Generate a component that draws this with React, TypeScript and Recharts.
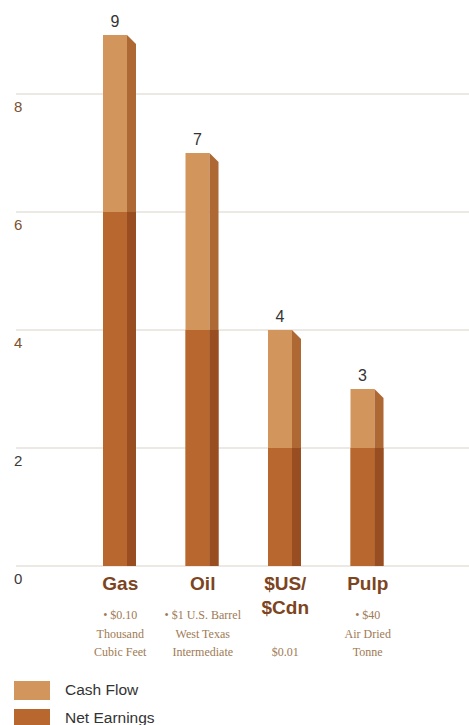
import { Bar, BarChart, CartesianGrid, LabelList, XAxis, YAxis } from "recharts";

const categories = ["Gas", "Oil", "$US/\n$Cdn", "Pulp"];
const cashFlow = [9, 7, 4, 3];
const netEarnings = [6, 4, 2, 2];
const notes = [
  ["• $0.10", "Thousand", "Cubic Feet"],
  ["• $1 U.S. Barrel", "West Texas", "Intermediate"],
  ["", "", "$0.01"],
  ["• $40", "Air Dried", "Tonne"],
];
const yTicks = [0, 2, 4, 6, 8];

const series = [
  { key: "cashFlow", name: "Cash Flow", front: "#d2955c", side: "#ad6833" },
  { key: "netEarnings", name: "Net Earnings", front: "#b8672f", side: "#984e21" },
];

const data = categories.map((name, i) => ({
  name,
  cashFlow: cashFlow[i],
  netEarnings: netEarnings[i],
}));

const DEPTH = 9;

// front face plus a shaded right side; the top bar gets a bevelled corner
function Block(props: any) {
  const { x, y, width, height, front, side, bevel } = props;
  if (!height || height <= 0) return null;
  const r = x + width;
  const b = y + height;
  const sidePts = bevel
    ? `${r},${y} ${r + DEPTH},${y + DEPTH} ${r + DEPTH},${b} ${r},${b}`
    : `${r},${y} ${r + DEPTH},${y} ${r + DEPTH},${b} ${r},${b}`;
  return (
    <g>
      <rect x={x} y={y} width={width} height={height} fill={front} />
      <polygon points={sidePts} fill={side} />
    </g>
  );
}

function CategoryTick(props: any) {
  const { x, y, payload, index } = props;
  const lines = String(payload.value).split("\n");
  const cx = x + 5;
  return (
    <g>
      {lines.map((line, i) => (
        <text
          key={line}
          x={cx}
          y={y + 16 + i * 24}
          textAnchor="middle"
          fontFamily="Liberation Sans, Arial, sans-serif"
          fontWeight={700}
          fontSize={19}
          fill="#7c4421"
        >
          {line}
        </text>
      ))}
      {notes[index].map((line, i) =>
        line ? (
          <text
            key={i}
            x={cx}
            y={y + 45 + i * 18.5}
            textAnchor="middle"
            fontFamily="Liberation Serif, Times New Roman, serif"
            fontSize={12}
            fill="#a07a54"
          >
            {line}
          </text>
        ) : null
      )}
    </g>
  );
}

function ValueTick(props: any) {
  const { y, payload } = props;
  return (
    <text
      x={14}
      y={y + 18}
      fontFamily="Liberation Sans, Arial, sans-serif"
      fontSize={15}
      fill={payload.value >= 4 ? "#7a5232" : "#3a3a3a"}
    >
      {payload.value}
    </text>
  );
}

export default function App() {
  return (
    <div
      style={{
        position: "absolute",
        left: 0,
        top: 0,
        width: 469,
        height: 725,
        background: "#fff",
        overflow: "hidden",
      }}
    >
      <BarChart
        width={469}
        height={725}
        data={data}
        margin={{ top: 35, right: 0, left: 0, bottom: 59 }}
        barGap={-24}
        barSize={24}
      >
        <CartesianGrid
          vertical={false}
          horizontalValues={yTicks}
          stroke="#d9d1ca"
          strokeWidth={1.2}
        />
        <XAxis
          dataKey="name"
          axisLine={false}
          tickLine={false}
          height={100}
          padding={{ left: 58, right: 65 }}
          interval={0}
          tick={<CategoryTick />}
        />
        <YAxis
          width={16}
          domain={[0, 9]}
          ticks={yTicks}
          axisLine={false}
          tickLine={false}
          tick={<ValueTick />}
        />
        <Bar
          dataKey="cashFlow"
          name="Cash Flow"
          isAnimationActive={false}
          shape={(p: any) => <Block {...p} front={series[0].front} side={series[0].side} bevel />}
        >
          <LabelList
            dataKey="cashFlow"
            position="top"
            offset={8}
            fill="#333"
            fontSize={16}
            fontFamily="Liberation Sans, Arial, sans-serif"
          />
        </Bar>
        <Bar
          dataKey="netEarnings"
          name="Net Earnings"
          isAnimationActive={false}
          shape={(p: any) => <Block {...p} front={series[1].front} side={series[1].side} />}
        />
      </BarChart>
      <div
        style={{
          position: "absolute",
          left: 14,
          top: 676,
          fontFamily: "Liberation Sans, Arial, sans-serif",
          fontSize: 15.5,
          color: "#333",
        }}
      >
        {series.map((s) => (
          <div key={s.key} style={{ display: "flex", alignItems: "center", height: 28 }}>
            <span style={{ width: 36, height: 19, background: s.front, display: "inline-block" }} />
            <span style={{ marginLeft: 15 }}>{s.name}</span>
          </div>
        ))}
      </div>
    </div>
  );
}
